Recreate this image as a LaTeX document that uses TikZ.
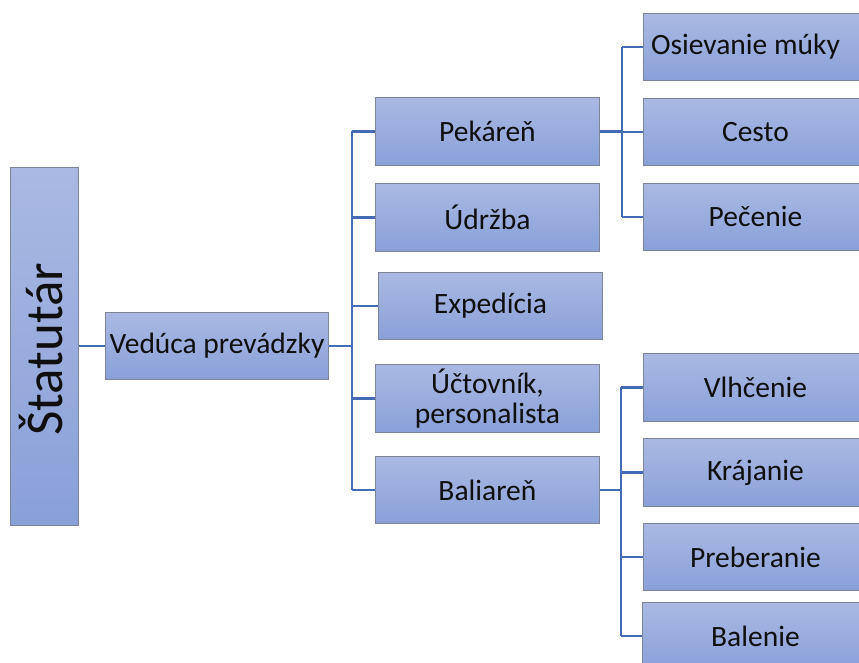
\documentclass[tikz,border=0pt]{standalone}
\usepackage{fontspec}
\setmainfont{Carlito}
\definecolor{boxtop}{RGB}{170,185,227}
\definecolor{boxbot}{RGB}{137,160,216}
\definecolor{boxborder}{RGB}{125,132,150}
\definecolor{connblue}{RGB}{68,108,180}
\definecolor{txt}{RGB}{15,15,15}
\begin{document}
\begin{tikzpicture}[x=1pt,y=-1pt,
  box/.style={draw=boxborder, line width=0.9pt, top color=boxtop, bottom color=boxbot,
    anchor=north west, inner sep=0pt, align=center, text=txt,
    font=\fontsize{29.5}{29.5}\selectfont},
  conn/.style={draw=connblue, line width=2.5pt}]
\useasboundingbox (0,0) rectangle (859,663);
\clip (0,0) rectangle (859,663);
% boxes
\node[box, minimum width=68pt, minimum height=358pt] (st) at (10,167) {};
\node[rotate=90, text=txt, font=\fontsize{53}{53}\selectfont] (stt) at ([xshift=-3pt,yshift=-3pt]st.center) {Štatutár};
\node[box, minimum width=223pt, minimum height=67pt] (ved) at (105,312) {Vedúca prevádzky};
\node[box, minimum width=224pt, minimum height=68pt] (pek) at (375,97) {Pekáreň};
\node[box, minimum width=224pt, minimum height=68pt] (udr) at (375,183) {Údržba};
\node[box, minimum width=224pt, minimum height=67pt] (exp) at (378,272) {Expedícia};
\node[box, minimum width=224pt, minimum height=68pt] (uct) at (375,364) {Účtovník,\\personalista};
\node[box, minimum width=224pt, minimum height=67pt] (bal) at (375,456) {Baliareň};
\node[box, minimum width=224pt, minimum height=67pt] (osi) at (643,13) {\hspace*{-20pt}Osievanie múky};
\node[box, minimum width=224pt, minimum height=67pt] (ces) at (643,98) {Cesto};
\node[box, minimum width=224pt, minimum height=67pt] (pec) at (643,183) {Pečenie};
\node[box, minimum width=224pt, minimum height=68pt] (vlh) at (643,353) {Vlhčenie};
\node[box, minimum width=224pt, minimum height=68pt] (kra) at (643,438) {Krájanie};
\node[box, minimum width=224pt, minimum height=67pt] (pre) at (643,523) {Preberanie};
\node[box, minimum width=226pt, minimum height=67pt] (bln) at (642,602) {Balenie};
% trunk coordinates
\coordinate (t1) at (352,0);
\coordinate (t2) at (622,0);
\coordinate (t3) at (621,0);
% connectors
\draw[conn] (st.east |- ved.west) -- (ved.west);
\draw[conn] (ved.east) -- (ved.east -| t1);
\draw[conn] (t1 |- pek.west) -- (t1 |- bal.west);
\draw[conn] (t1 |- pek.west) -- (pek.west);
\draw[conn] (t1 |- udr.west) -- (udr.west);
\draw[conn] (t1 |- exp.west) -- (exp.west);
\draw[conn] (t1 |- uct.west) -- (uct.west);
\draw[conn] (t1 |- bal.west) -- (bal.west);
\draw[conn] (pek.east) -- (pek.east -| t2);
\draw[conn] (t2 |- osi.west) -- (t2 |- pec.west);
\draw[conn] (t2 |- osi.west) -- (osi.west);
\draw[conn] (t2 |- ces.west) -- (ces.west);
\draw[conn] (t2 |- pec.west) -- (pec.west);
\draw[conn] (bal.east) -- (bal.east -| t3);
\draw[conn] (t3 |- vlh.west) -- (t3 |- bln.west);
\draw[conn] (t3 |- vlh.west) -- (vlh.west);
\draw[conn] (t3 |- kra.west) -- (kra.west);
\draw[conn] (t3 |- pre.west) -- (pre.west);
\draw[conn] (t3 |- bln.west) -- (bln.west);
\end{tikzpicture}
\end{document}
